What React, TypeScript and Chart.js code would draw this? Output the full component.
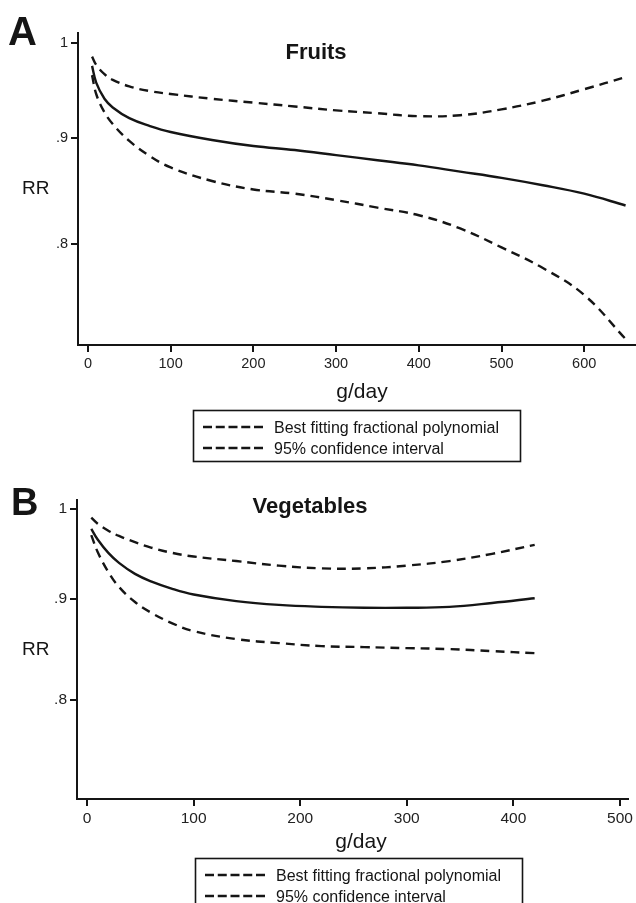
import React, { useEffect, useRef } from "react";
import { Chart, registerables } from "chart.js";

Chart.register(...registerables);

// ---------- Data ----------
const fruitX = [5, 10, 20, 30, 50, 75, 100, 150, 200, 250, 300, 350, 400, 450, 500, 550, 600, 650];
const fruitRR = [0.975, 0.957, 0.94, 0.931, 0.92, 0.912, 0.906, 0.898, 0.892, 0.888, 0.883, 0.878, 0.873, 0.867, 0.861, 0.854, 0.846, 0.835];
const fruitHi = [0.985, 0.976, 0.966, 0.96, 0.953, 0.948, 0.945, 0.94, 0.936, 0.932, 0.928, 0.925, 0.922, 0.923, 0.929, 0.938, 0.95, 0.963];
const fruitLo = [0.965, 0.945, 0.926, 0.914, 0.897, 0.882, 0.871, 0.858, 0.85, 0.846, 0.84, 0.833, 0.826, 0.814, 0.797, 0.779, 0.756, 0.72];

const vegX = [4, 10, 20, 30, 45, 60, 80, 100, 140, 180, 220, 260, 300, 340, 380, 420];
const vegRR = [0.977, 0.965, 0.95, 0.939, 0.927, 0.919, 0.911, 0.905, 0.898, 0.894, 0.892, 0.891, 0.891, 0.892, 0.896, 0.901];
const vegHi = [0.99, 0.983, 0.975, 0.969, 0.962, 0.956, 0.95, 0.946, 0.941, 0.936, 0.933, 0.933, 0.936, 0.941, 0.949, 0.959];
const vegLo = [0.97, 0.951, 0.929, 0.913, 0.897, 0.886, 0.875, 0.867, 0.859, 0.855, 0.852, 0.851, 0.85, 0.849, 0.847, 0.845];

const fruitXTicks = [0, 100, 200, 300, 400, 500, 600];
const vegXTicks = [0, 100, 200, 300, 400, 500];
const yTickValues = [0.8, 0.9, 1];
const yTickLabels = [".8", ".9", "1"];

const panelLetters = ["A", "B"];
const panelTitles = ["Fruits", "Vegetables"];
const yTitle = "RR";
const xTitle = "g/day";
const legendLabels = ["Best fitting fractional polynomial", "95% confidence interval"];

// ---------- Styling ----------
const FONT = '"Liberation Sans", Arial, Helvetica, sans-serif';
const INK = "#151515";

type PanelCfg = {
  top: number;
  height: number;
  letter: string;
  title: string;
  xs: number[];
  rr: number[];
  hi: number[];
  lo: number[];
  xTicks: number[];
  xMin: number;
  xMax: number;
  yMin: number;
  yMax: number;
  padTop: number;
  padBottom: number;
  padRight: number;
  yWidth: number;
  tickFont: number;
  letterSize: number;
  letterX: number;
  letterY: number;
  titleX: number;
  titleY: number;
  gX: number;
  gY: number;
  legX: number;
  legY: number;
  legW: number;
  legH: number;
};

const panels: PanelCfg[] = [
  {
    top: 0, height: 470, letter: panelLetters[0], title: panelTitles[0],
    xs: fruitX, rr: fruitRR, hi: fruitHi, lo: fruitLo, xTicks: fruitXTicks,
    xMin: -12, xMax: 662.6, yMin: 0.7152, yMax: 1.0112,
    padTop: 33, padBottom: 95, padRight: 0, yWidth: 78, tickFont: 14.5,
    letterSize: 40, letterX: 8, letterY: 45, titleX: 316, titleY: 59,
    gX: 362, gY: 398, legX: 193, legY: 410, legW: 327, legH: 51,
  },
  {
    top: 470, height: 433, letter: panelLetters[1], title: panelTitles[1],
    xs: vegX, rr: vegRR, hi: vegHi, lo: vegLo, xTicks: vegXTicks,
    xMin: -9.4, xMax: 508, yMin: 0.7126, yMax: 1.0106,
    padTop: 30, padBottom: 74, padRight: 7, yWidth: 77, tickFont: 15.5,
    letterSize: 38, letterX: 11, letterY: 45, titleX: 310, titleY: 43,
    gX: 361, gY: 378, legX: 195, legY: 388, legW: 327, legH: 51,
  },
];

function makeDecor(p: PanelCfg) {
  return {
    id: "panelDecor" + p.letter,
    afterDraw(chart: any) {
      const ctx = chart.ctx as CanvasRenderingContext2D;
      const ca = chart.chartArea;
      ctx.save();
      ctx.fillStyle = INK;
      ctx.strokeStyle = INK;
      ctx.textBaseline = "alphabetic";

      // panel letter
      ctx.textAlign = "left";
      ctx.font = `bold ${p.letterSize}px ${FONT}`;
      ctx.fillText(p.letter, p.letterX, p.letterY);

      // title
      ctx.textAlign = "center";
      ctx.font = `bold 22px ${FONT}`;
      ctx.fillText(p.title, p.titleX, p.titleY);

      // RR label (horizontal)
      ctx.textAlign = "left";
      ctx.textBaseline = "middle";
      ctx.font = `19px ${FONT}`;
      ctx.fillText(yTitle, 22, (ca.top + ca.bottom) / 2);

      // x title
      ctx.textBaseline = "alphabetic";
      ctx.textAlign = "center";
      ctx.font = `21px ${FONT}`;
      ctx.fillText(xTitle, p.gX, p.gY);

      // legend box
      ctx.lineWidth = 1.6;
      ctx.setLineDash([]);
      ctx.strokeRect(p.legX + 0.5, p.legY + 0.5, p.legW, p.legH);
      ctx.font = `16px ${FONT}`;
      ctx.textAlign = "left";
      legendLabels.forEach((lab, i) => {
        const cy = p.legY + 17 + i * 21;
        ctx.save();
        ctx.lineWidth = 2.5;
        ctx.setLineDash([9, 3.75]);
        ctx.beginPath();
        ctx.moveTo(p.legX + 10, cy);
        ctx.lineTo(p.legX + 70, cy);
        ctx.stroke();
        ctx.restore();
        ctx.fillText(lab, p.legX + 81, cy + 5.5);
      });
      ctx.restore();
    },
  };
}

function Panel({ p }: { p: PanelCfg }) {
  const ref = useRef<HTMLCanvasElement | null>(null);
  useEffect(() => {
    if (!ref.current) return;
    const pts = (ys: number[]) => p.xs.map((x, i) => ({ x, y: ys[i] }));
    const base = {
      borderColor: INK,
      borderWidth: 2.4,
      pointRadius: 0,
      fill: false,
      tension: 0.4,
    };
    const chart = new Chart(ref.current, {
      type: "line",
      data: {
        datasets: [
          { ...base, label: "upper", data: pts(p.hi), borderDash: [9, 6] },
          { ...base, label: "fit", data: pts(p.rr) },
          { ...base, label: "lower", data: pts(p.lo), borderDash: [9, 6] },
        ],
      },
      options: {
        responsive: false,
        animation: false,
        events: [],
        layout: { padding: { top: p.padTop, bottom: p.padBottom, left: 0, right: p.padRight } },
        plugins: { legend: { display: false }, tooltip: { enabled: false }, title: { display: false } },
        scales: {
          x: {
            type: "linear",
            min: p.xMin,
            max: p.xMax,
            afterBuildTicks: (s: any) => {
              s.ticks = p.xTicks.map((v) => ({ value: v }));
            },
            afterFit: (s: any) => {
              s.height = 30;
            },
            grid: { drawOnChartArea: false, drawTicks: true, tickLength: 7, color: INK, lineWidth: 2 },
            border: { display: true, color: INK, width: 2 },
            ticks: {
              autoSkip: false,
              maxRotation: 0,
              padding: 3,
              color: "#222",
              font: { family: FONT, size: p.tickFont },
              callback: (v: any) => String(v),
            },
          },
          y: {
            type: "logarithmic",
            min: p.yMin,
            max: p.yMax,
            afterBuildTicks: (s: any) => {
              s.ticks = yTickValues.map((v) => ({ value: v }));
            },
            afterFit: (s: any) => {
              s.width = p.yWidth;
            },
            grid: { drawOnChartArea: false, drawTicks: true, tickLength: 7, color: INK, lineWidth: 2 },
            border: { display: true, color: INK, width: 2 },
            ticks: {
              autoSkip: false,
              padding: 3,
              color: "#222",
              font: { family: FONT, size: p.tickFont },
              callback: (v: any) => {
                const i = yTickValues.findIndex((t) => Math.abs(t - Number(v)) < 1e-6);
                return i >= 0 ? yTickLabels[i] : "";
              },
            },
          },
        },
      },
      plugins: [makeDecor(p)],
    } as any);
    return () => chart.destroy();
  }, [p]);
  return (
    <canvas
      ref={ref}
      width={636}
      height={p.height}
      style={{ position: "absolute", left: 0, top: p.top, width: 636, height: p.height, display: "block" }}
    />
  );
}

export default function App() {
  return (
    <div style={{ position: "absolute", left: 0, top: 0, width: 636, height: 903, background: "#fff", overflow: "hidden" }}>
      {panels.map((p) => (
        <Panel key={p.letter} p={p} />
      ))}
    </div>
  );
}
